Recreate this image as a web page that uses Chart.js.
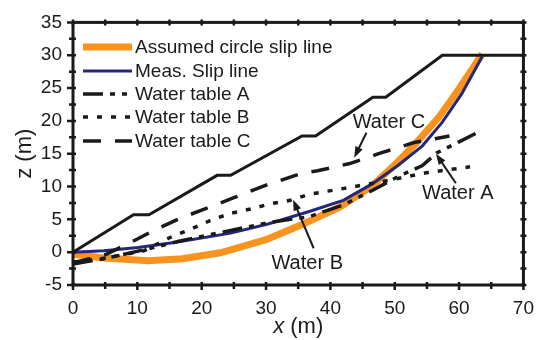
<!DOCTYPE html>
<html>
<head>
<meta charset="utf-8">
<script src="https://cdn.jsdelivr.net/npm/chart.js@4"></script>
<style>
  body { margin: 0; background: #fff; }
  canvas { display: block; }
</style>
</head>
<body>
<canvas id="slope" width="546" height="340"></canvas>
<script>
// ground surface
const groundX = [0, 9.4, 11.8, 22.4, 24.5, 35.6, 37.7, 46.6, 48.6, 57.4, 70];
const groundZ = [0, 5.7, 5.7, 11.7, 11.7, 17.7, 17.7, 23.6, 23.6, 30, 30];

// assumed circular slip line
const circleX = [0, 4.8, 11.7, 17, 22.9, 30, 35.6, 41.5, 46.5, 50, 53.4, 56.9, 60, 63.6];
const circleZ = [-0.3, -0.9, -1.3, -1.0, -0.1, 1.9, 4.2, 6.9, 10.1, 13.3, 16.7, 20.6, 24.9, 30.2];

// measured slip line
const measX = [0, 4.8, 10.1, 16, 24.5, 30.3, 36.7, 42, 46.5, 50.5, 54.3, 57.4, 60.4, 63.6];
const measZ = [0, 0.2, 0.7, 1.5, 2.9, 4.3, 6.2, 7.9, 10.4, 13.2, 16.2, 19.8, 24.1, 29.8];

// water tables
const waterAX = [0, 4.8, 11.7, 17, 24.5, 30.3, 36.7, 42, 46.5, 50.5, 54.3, 56.5, 60, 63.4];
const waterAZ = [-1.8, -1.0, 0.5, 1.8, 3.3, 4.5, 5.4, 7.2, 9.4, 11.5, 13.2, 15.1, 16.8, 18.5];
const waterBX = [0, 5, 11, 15, 18.5, 21.3, 24.4, 27.7, 30.8, 33.8, 36.6, 39.6, 42.7, 46, 49.4, 54.9, 61.7];
const waterBZ = [-1.5, -0.9, 0.2, 2.2, 3.6, 4.8, 5.9, 6.6, 7.4, 7.9, 8.8, 9.3, 9.8, 10.4, 11, 12.1, 13];
const waterCX = [0, 5, 10, 12.5, 16.5, 20, 25, 30, 35.5, 38, 43, 47.5, 53, 58.5];
const waterCZ = [-1.6, -0.4, 2, 3.3, 5.1, 6.4, 8.3, 10.2, 12, 12.4, 13.5, 15, 16.7, 17.7];

// axis ticks
const xTicks = [0, 10, 20, 30, 40, 50, 60, 70];
const yTicks = [-5, 0, 5, 10, 15, 20, 25, 30, 35];

// labels with arrows: [text, textX, textZ, tailX, tailZ, tipX, tipZ]
const notes = [
  ['Water C', 49.1, 19.7, 45.6, 18.2, 43.7, 14.4],
  ['Water A', 59.8, 8.9, 59.5, 10.5, 56.4, 15.0],
  ['Water B', 36.4, -1.7, 37.4, 0.6, 34.2, 8.0]
];

const legendNames = ['Assumed circle slip line', 'Meas. Slip line', 'Water table A', 'Water table B', 'Water table C'];

function pts(xs, zs) {
  return xs.map((x, i) => ({ x: x, y: zs[i] }));
}

const FONT = '"Liberation Sans", Arial, sans-serif';
const INK = '#1a1a1a';

const datasets = [
  { label: legendNames[0], data: pts(circleX, circleZ), borderColor: '#f7931e', borderWidth: 7, order: 3 },
  { label: legendNames[1], data: pts(measX, measZ), borderColor: '#24287a', borderWidth: 3, order: 2 },
  { label: legendNames[2], data: pts(waterAX, waterAZ), borderColor: INK, borderWidth: 3.5, borderDash: [20, 7, 5, 7, 5, 7], order: 1 },
  { label: legendNames[3], data: pts(waterBX, waterBZ), borderColor: INK, borderWidth: 3.5, borderDash: [5, 9], order: 1 },
  { label: legendNames[4], data: pts(waterCX, waterCZ), borderColor: INK, borderWidth: 3.5, borderDash: [18, 14], order: 1 },
  { label: 'ground', data: pts(groundX, groundZ), borderColor: INK, borderWidth: 3, order: 0 }
];
datasets.forEach(d => { d.pointRadius = 0; d.fill = false; d.tension = 0; });

// frame, ticks, legend, notes and axis titles
const decor = {
  id: 'decor',
  afterDraw(chart) {
    const ctx = chart.ctx;
    const a = chart.chartArea;
    const sx = chart.scales.x, sy = chart.scales.y;
    ctx.save();

    // ticks on all four sides
    ctx.strokeStyle = INK;
    ctx.lineWidth = 2.5;
    ctx.beginPath();
    for (let v = 0; v <= 70; v += 5) {
      const px = sx.getPixelForValue(v);
      const len = v % 10 === 0 ? 5 : 4;
      ctx.moveTo(px, a.bottom - 3); ctx.lineTo(px, a.bottom + len);
      ctx.moveTo(px, a.top - 3); ctx.lineTo(px, a.top + 3);
    }
    for (let v = -5; v <= 35; v += 2.5) {
      const py = sy.getPixelForValue(v);
      const len = v % 5 === 0 ? 6 : 4;
      ctx.moveTo(a.left - len, py); ctx.lineTo(a.left + 3, py);
      ctx.moveTo(a.right - 3, py); ctx.lineTo(a.right + 3, py);
    }
    ctx.stroke();

    // frame
    ctx.lineWidth = 3;
    ctx.strokeRect(a.left, a.top, a.right - a.left, a.bottom - a.top);

    // legend
    const rows = [47, 71, 94, 117, 141];
    ctx.font = '19px ' + FONT;
    ctx.textBaseline = 'middle';
    ctx.textAlign = 'left';
    for (let i = 0; i < 5; i++) {
      const ds = datasets[i];
      ctx.strokeStyle = ds.borderColor;
      ctx.lineWidth = ds.borderWidth;
      ctx.setLineDash(ds.borderDash || []);
      ctx.beginPath();
      ctx.moveTo(83, rows[i]); ctx.lineTo(132, rows[i]);
      ctx.stroke();
      ctx.setLineDash([]);
      ctx.fillStyle = INK;
      ctx.fillText(legendNames[i], 135, rows[i] + 1);
    }

    // annotations with arrows
    ctx.font = '20px ' + FONT;
    ctx.textAlign = 'center';
    notes.forEach(n => {
      const tx = sx.getPixelForValue(n[1]), ty = sy.getPixelForValue(n[2]);
      const x0 = sx.getPixelForValue(n[3]), y0 = sy.getPixelForValue(n[4]);
      const x1 = sx.getPixelForValue(n[5]), y1 = sy.getPixelForValue(n[6]);
      ctx.fillStyle = INK;
      ctx.fillText(n[0], tx, ty);
      const ang = Math.atan2(y1 - y0, x1 - x0);
      ctx.strokeStyle = INK;
      ctx.lineWidth = 2;
      ctx.beginPath();
      ctx.moveTo(x0, y0);
      ctx.lineTo(x1 - 8 * Math.cos(ang), y1 - 8 * Math.sin(ang));
      ctx.stroke();
      ctx.beginPath();
      ctx.moveTo(x1, y1);
      ctx.lineTo(x1 - 11 * Math.cos(ang) + 4 * Math.sin(ang), y1 - 11 * Math.sin(ang) - 4 * Math.cos(ang));
      ctx.lineTo(x1 - 11 * Math.cos(ang) - 4 * Math.sin(ang), y1 - 11 * Math.sin(ang) + 4 * Math.cos(ang));
      ctx.closePath();
      ctx.fill();
    });

    // axis titles, x in italics
    ctx.textAlign = 'left';
    ctx.font = 'italic 22px ' + FONT;
    const xw = ctx.measureText('x').width;
    ctx.font = '22px ' + FONT;
    const rw = ctx.measureText(' (m)').width;
    const cx = (a.left + a.right) / 2 - (xw + rw) / 2;
    ctx.font = 'italic 22px ' + FONT;
    ctx.fillText('x', cx, 327);
    ctx.font = '22px ' + FONT;
    ctx.fillText(' (m)', cx + xw, 327);

    ctx.translate(25, (a.top + a.bottom) / 2);
    ctx.rotate(-Math.PI / 2);
    ctx.textAlign = 'center';
    ctx.fillText('z (m)', 0, 0);
    ctx.restore();
  }
};

new Chart(document.getElementById('slope').getContext('2d'), {
  type: 'line',
  data: { datasets: datasets },
  options: {
    responsive: false,
    animation: false,
    layout: { padding: { top: 21, right: 14, left: 0, bottom: 0 } },
    plugins: { legend: { display: false }, tooltip: { enabled: false } },
    scales: {
      x: {
        type: 'linear', min: 0, max: 70,
        afterBuildTicks: s => { s.ticks = xTicks.map(v => ({ value: v })); },
        afterFit: s => { s.height = 55; },
        grid: { display: false, drawTicks: false },
        border: { display: false },
        ticks: { padding: 12, color: INK, font: { family: FONT, size: 19 } }
      },
      y: {
        type: 'linear', min: -5, max: 35,
        afterBuildTicks: s => { s.ticks = yTicks.map(v => ({ value: v })); },
        afterFit: s => { s.width = 73; },
        grid: { display: false, drawTicks: false },
        border: { display: false },
        ticks: { padding: 11, color: INK, font: { family: FONT, size: 19 } }
      }
    }
  },
  plugins: [decor]
});
</script>
</body>
</html>
